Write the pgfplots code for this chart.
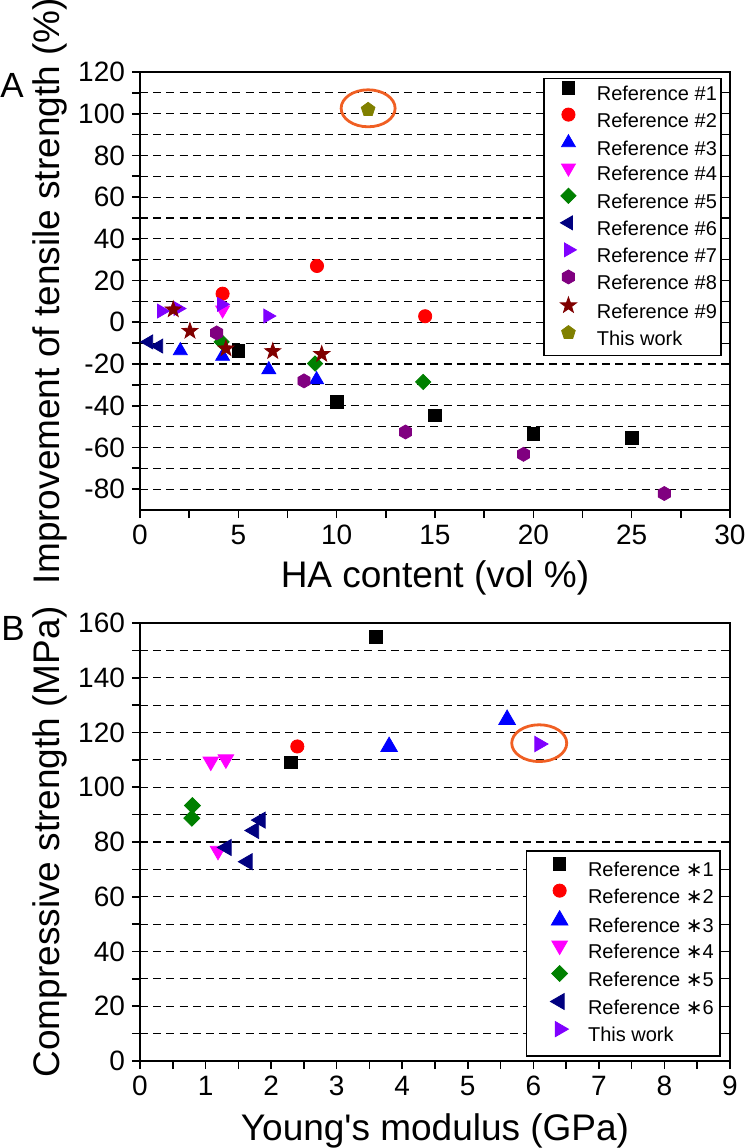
\documentclass[border=0pt]{standalone}
\usepackage{pgfplots}
\pgfplotsset{compat=1.18}
\usepackage{fontspec}
\setmainfont{Liberation Sans}
\newfontfamily\nomap{Liberation Sans}
\newfontfamily\dejavu{DejaVu Sans}

\definecolor{cRed}{RGB}{255,0,0}
\definecolor{cBlue}{RGB}{0,0,255}
\definecolor{cMag}{RGB}{255,0,255}
\definecolor{cGreen}{RGB}{0,128,0}
\definecolor{cNavy}{RGB}{0,0,128}
\definecolor{cViolet}{RGB}{128,0,255}
\definecolor{cPurple}{RGB}{128,0,128}
\definecolor{cWine}{RGB}{128,0,0}
\definecolor{cOlive}{RGB}{128,128,0}
\definecolor{cOrange}{RGB}{240,95,35}

\pgfdeclareplotmark{hexagon*}{%
  \pgfpathmoveto{\pgfpointpolar{90}{\pgfplotmarksize}}%
  \pgfpathlineto{\pgfpointpolar{150}{\pgfplotmarksize}}%
  \pgfpathlineto{\pgfpointpolar{210}{\pgfplotmarksize}}%
  \pgfpathlineto{\pgfpointpolar{270}{\pgfplotmarksize}}%
  \pgfpathlineto{\pgfpointpolar{330}{\pgfplotmarksize}}%
  \pgfpathlineto{\pgfpointpolar{30}{\pgfplotmarksize}}%
  \pgfpathclose\pgfusepathqfillstroke}
\pgfdeclareplotmark{fstar}{%
  \pgfpathmoveto{\pgfpointpolar{90}{\pgfplotmarksize}}%
  \pgfpathlineto{\pgfpointpolar{126}{0.4\pgfplotmarksize}}%
  \pgfpathlineto{\pgfpointpolar{162}{\pgfplotmarksize}}%
  \pgfpathlineto{\pgfpointpolar{198}{0.4\pgfplotmarksize}}%
  \pgfpathlineto{\pgfpointpolar{234}{\pgfplotmarksize}}%
  \pgfpathlineto{\pgfpointpolar{270}{0.4\pgfplotmarksize}}%
  \pgfpathlineto{\pgfpointpolar{306}{\pgfplotmarksize}}%
  \pgfpathlineto{\pgfpointpolar{342}{0.4\pgfplotmarksize}}%
  \pgfpathlineto{\pgfpointpolar{18}{\pgfplotmarksize}}%
  \pgfpathlineto{\pgfpointpolar{54}{0.4\pgfplotmarksize}}%
  \pgfpathclose\pgfusepathqfillstroke}
\pgfdeclareplotmark{sdiamond*}{%
  \pgfpathmoveto{\pgfqpoint{0pt}{\pgfplotmarksize}}%
  \pgfpathlineto{\pgfqpoint{\pgfplotmarksize}{0pt}}%
  \pgfpathlineto{\pgfqpoint{0pt}{-\pgfplotmarksize}}%
  \pgfpathlineto{\pgfqpoint{-\pgfplotmarksize}{0pt}}%
  \pgfpathclose\pgfusepathqfillstroke}

\pgfplotsset{
  myax/.style={
    scale only axis, width=295pt, height=219pt,
    axis line style={line width=0.8pt},
    every tick/.style={line width=0.8pt, black},
    tick align=outside, major tick length=4pt, minor tick length=4pt,
    xtick pos=bottom, ytick pos=left,
    ymajorgrids, yminorgrids,
    major grid style={black, line width=0.55pt, dash pattern=on 4pt off 2.6pt},
    minor grid style={black, line width=0.55pt, dash pattern=on 4pt off 2.6pt},
    minor x tick num=1, minor y tick num=1,
    tick label style={font=\fontsize{14}{16}\selectfont},
    label style={font=\fontsize{18.5}{21}\selectfont},
    /pgf/number format/assume math mode=true,
  },
  topleg/.style={every axis plot/.append style={only marks, line width=0.4pt,
      legend image code/.code={\path (-11.5pt,0pt) (12.5pt,0pt); \draw[##1] plot coordinates {(0pt,3.6pt)};}}},
  botleg/.style={every axis plot/.append style={only marks, line width=0.4pt,
      legend image code/.code={\path (-14.8pt,0pt) (12.5pt,0pt); \draw[##1] plot coordinates {(0pt,3.6pt)};}}},
}

\begin{document}
\begin{tikzpicture}
\path[use as bounding box] (-70pt,-319pt) rectangle (303pt,255pt);

\begin{axis}[myax, topleg, at={(0pt,0pt)}, anchor=south west,
  xmin=0, xmax=30, ymin=-90, ymax=120,
  xtick={0,5,...,30}, ytick={-80,-60,...,120},
  xlabel={HA content (vol \%)},
  ylabel={Improvement of tensile strength (\%)},
  xlabel style={at={(axis description cs:0.5,-0.176)}, anchor=base},
  ylabel style={at={(axis description cs:-0.1356,0.5)}, anchor=base},
  legend style={at={(axis description cs:0.986,0.987)}, anchor=north east,
    draw=black, line width=0.8pt, fill=white, font=\fontsize{10}{12}\selectfont,
    inner xsep=0.5pt, inner ysep=1.5pt, row sep=0.2pt, cells={anchor=west},
    nodes={inner sep=1.5pt, text height=7.5pt, text depth=2pt}},
]
\addplot[mark=square*, color=black, mark size=3.2pt] coordinates {(5,-13.9)(10,-38.2)(15,-44.6)(20,-53.4)(25,-55.3)};
\addlegendentry{Reference \#1}
\addplot[mark=*, color=cRed, mark size=3.3pt] coordinates {(4.2,13.7)(9,27)(14.5,2.9)};
\addlegendentry{Reference \#2}
\addplot[mark=triangle*, color=cBlue, mark size=4pt] coordinates {(2.05,-13.6)(4.2,-16.3)(6.55,-22.7)(8.98,-27.5)};
\addlegendentry{Reference \#3}
\addplot[mark=triangle*, mark options={rotate=180}, color=cMag, mark size=4pt] coordinates {(4.2,5.9)};
\addlegendentry{Reference \#4}
\addplot[mark=sdiamond*, color=cGreen, mark size=3.8pt] coordinates {(4.15,-9.4)(8.9,-19.8)(14.4,-28.6)};
\addlegendentry{Reference \#5}
\addplot[mark=triangle*, mark options={rotate=90}, color=cNavy, mark size=4pt] coordinates {(0.44,-9.4)(0.95,-11.4)};
\addlegendentry{Reference \#6}
\addplot[mark=triangle*, mark options={rotate=-90}, color=cViolet, mark size=4pt] coordinates {(1.09,5.4)(1.93,6.6)(4.14,8.6)(6.5,3.0)};
\addlegendentry{Reference \#7}
\addplot[mark=hexagon*, color=cPurple, mark size=3.5pt] coordinates {(3.9,-5.1)(8.34,-28.1)(13.5,-52.6)(19.5,-63.3)(26.66,-82.1)};
\addlegendentry{Reference \#8}
\addplot[mark=fstar, color=cWine, mark size=4.2pt] coordinates {(1.69,6.1)(2.54,-4.2)(4.37,-12.6)(6.75,-13.9)(9.24,-15.3)};
\addlegendentry{Reference \#9}
\addplot[mark=pentagon*, color=cOlive, mark size=3.6pt] coordinates {(11.6,102)};
\addlegendentry{This work}
\draw[cOrange, line width=1.4pt] (axis cs:11.6,102.6) ellipse [x radius=13.5pt, y radius=9.25pt];
\end{axis}

\begin{axis}[myax, botleg, at={(0pt,-275.5pt)}, anchor=south west,
  xmin=0, xmax=9, ymin=0, ymax=160,
  xtick={0,1,...,9}, ytick={0,20,...,160},
  xlabel={Young{\nomap '}s modulus (GPa)},
  ylabel={Compressive strength (MPa)},
  xlabel style={at={(axis description cs:0.5,-0.1805)}, anchor=base},
  ylabel style={at={(axis description cs:-0.1356,0.5)}, anchor=base},
  legend style={at={(axis description cs:0.984,0.01)}, anchor=south east,
    draw=black, line width=0.8pt, fill=white, font=\fontsize{10}{12}\selectfont,
    inner xsep=1.5pt, inner ysep=3.5pt, row sep=0.15pt, cells={anchor=west},
    nodes={inner sep=1.5pt, text height=7.5pt, text depth=2pt}},
]
\addplot[mark=square*, color=black, mark size=3.1pt] coordinates {(2.3,109)(3.6,154.9)};
\addlegendentry{Reference {\dejavu ∗}1}
\addplot[mark=*, color=cRed, mark size=3.3pt] coordinates {(2.4,114.9)};
\addlegendentry{Reference {\dejavu ∗}2}
\addplot[mark=triangle*, color=cBlue, mark size=4.8pt] coordinates {(3.8,114.8)(5.6,124.7)};
\addlegendentry{Reference {\dejavu ∗}3}
\addplot[mark=triangle*, mark options={rotate=180}, color=cMag, mark size=4.5pt] coordinates {(1.08,109.4)(1.31,110.2)(1.19,76.8)};
\addlegendentry{Reference {\dejavu ∗}4}
\addplot[mark=sdiamond*, color=cGreen, mark size=4pt] coordinates {(0.8,93.3)(0.79,88.7)};
\addlegendentry{Reference {\dejavu ∗}5}
\addplot[mark=triangle*, mark options={rotate=90}, color=cNavy, mark size=4.6pt] coordinates {(1.32,78)(1.64,72.8)(1.74,84.2)(1.84,88)};
\addlegendentry{Reference {\dejavu ∗}6}
\addplot[mark=triangle*, mark options={rotate=-90}, color=cViolet, mark size=4.4pt] coordinates {(6.09,115.8)};
\addlegendentry{This work}
\draw[cOrange, line width=1.4pt] (axis cs:6.09,116.1) ellipse [x radius=13.75pt, y radius=9.2pt];
\end{axis}

\node[anchor=base west, inner sep=0pt, font=\fontsize{17.5}{20}\selectfont] at (-70pt,206.5pt) {A};
\node[anchor=base west, inner sep=0pt, font=\fontsize{17.5}{20}\selectfont] at (-69.5pt,-65pt) {B};
\end{tikzpicture}
\end{document}
